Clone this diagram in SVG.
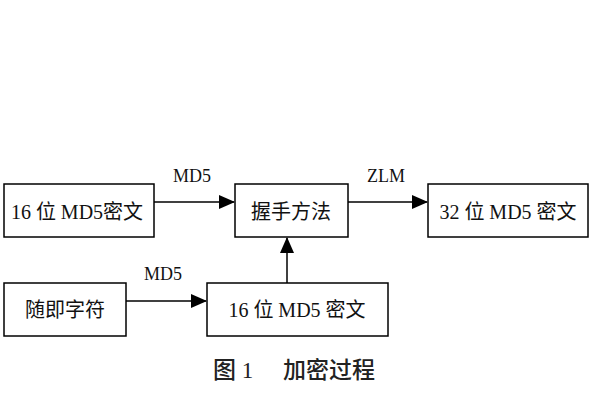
<svg xmlns="http://www.w3.org/2000/svg" width="600" height="400" viewBox="0 0 600 400">
<defs>
<marker id="ah" markerWidth="16" markerHeight="14" refX="15" refY="7" orient="auto" markerUnits="userSpaceOnUse">
<path d="M0,0 L16,7 L0,14 z" fill="#000"/>
</marker>
<style>
.box{fill:#fff;stroke:#000;stroke-width:1.5}
.t{font-family:"Liberation Serif","Noto Sans CJK SC",serif;font-size:20px;fill:#111;text-anchor:middle}
.l{font-family:"Liberation Serif","Noto Sans CJK SC",serif;font-size:18px;fill:#111;text-anchor:middle}
.c{stroke:#000;stroke-width:1.5;fill:none;marker-end:url(#ah)}
.cap{font-family:"Liberation Serif","Noto Sans CJK SC",serif;font-size:23px;font-weight:500;fill:#222}
</style>
</defs>
<rect width="600" height="400" fill="#fff"/>
<g id="n1"><rect class="box" x="4" y="184" width="150" height="53"/><text class="t" x="77" y="219">16 位 MD5密文</text></g>
<g id="n2"><rect class="box" x="235" y="184" width="113" height="53"/><text class="t" x="291" y="219">握手方法</text></g>
<g id="n3"><rect class="box" x="428" y="184" width="160" height="53"/><text class="t" x="508" y="219">32 位 MD5 密文</text></g>
<g id="n4"><rect class="box" x="4" y="283" width="122" height="53"/><text class="t" x="65" y="317">随即字符</text></g>
<g id="n5"><rect class="box" x="207" y="283" width="181" height="53"/><text class="t" x="297" y="317">16 位 MD5 密文</text></g>
<g id="edges">
<line class="c" x1="154" y1="202" x2="234" y2="202"/>
<line class="c" x1="348" y1="202" x2="427" y2="202"/>
<line class="c" x1="126" y1="301" x2="206" y2="301"/>
<line class="c" x1="287" y1="283" x2="287" y2="238"/>
<text class="l" x="192" y="182">MD5</text>
<text class="l" x="386" y="182">ZLM</text>
<text class="l" x="163" y="280">MD5</text>
</g>
<text class="cap" x="213" y="378">图 1</text>
<text class="cap" x="283" y="378">加密过程</text>
</svg>
